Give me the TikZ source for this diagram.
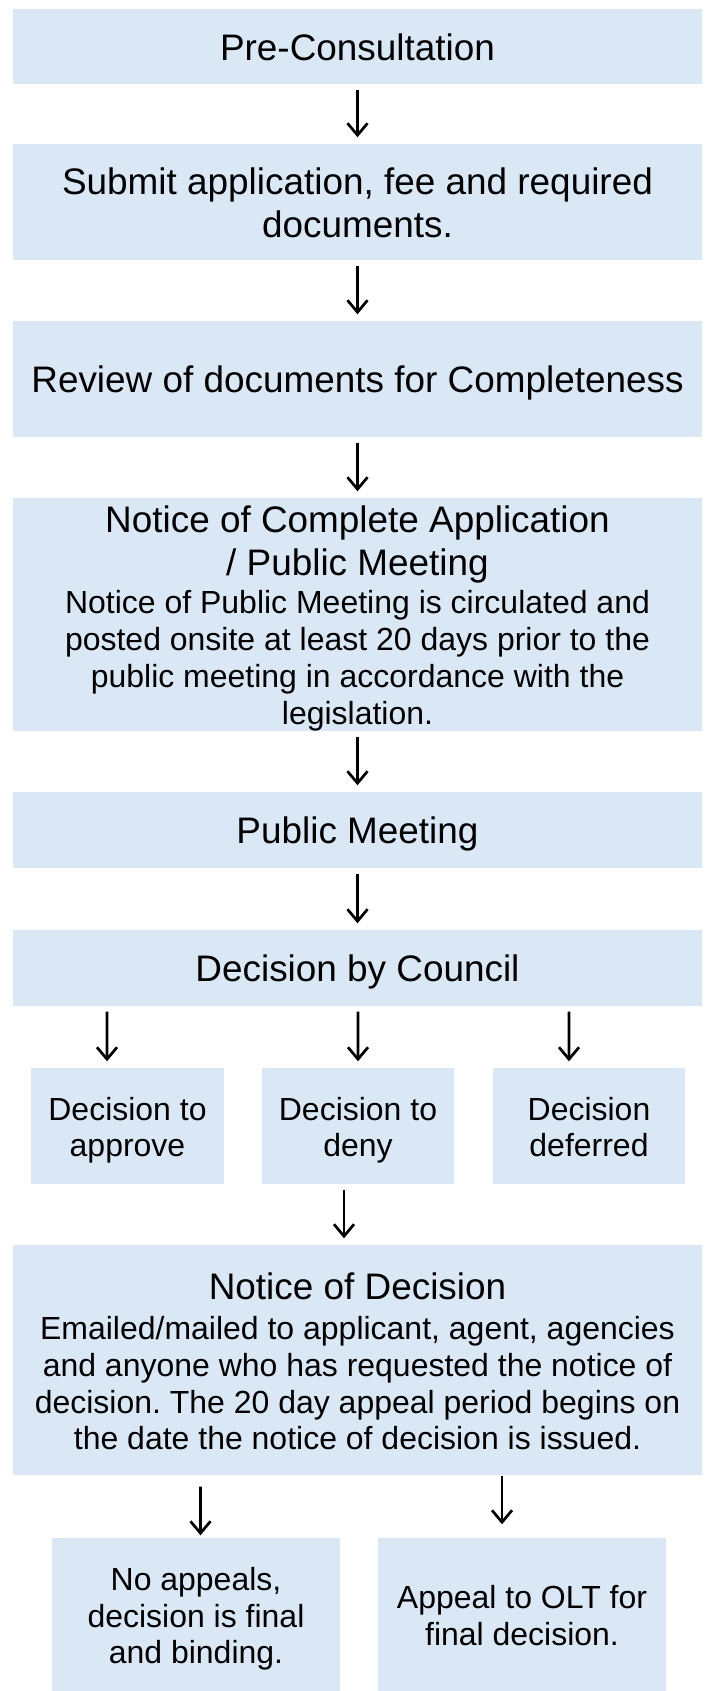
\documentclass[tikz,border=0pt]{standalone}
\usepackage{fontspec}
\setmainfont{Liberation Sans}
\usetikzlibrary{positioning,arrows.meta}
\definecolor{boxblue}{HTML}{DAE8F6}
\newcommand{\ttlsize}{\fontsize{10.5}{12.1}\selectfont}
\newcommand{\bdysize}{\fontsize{9.1}{10.45}\selectfont}
\newcommand{\topstrut}{\rule{0pt}{\dimexpr0.7\baselineskip+3pt\relax}}
\frenchspacing

\tikzset{
  stage/.style={fill=boxblue, minimum width=6.89cm, text width=6.85cm, align=flush center, inner sep=0pt, font=\ttlsize},
  wide/.style={stage, execute at begin node=\topstrut},
  small/.style={fill=boxblue, minimum width=1.92cm, minimum height=1.16cm, text width=1.9cm, align=flush center, inner sep=0pt, font=\bdysize,
    execute at begin node=\topstrut, execute at end node=\strut},
  low/.style={fill=boxblue, minimum width=2.88cm, minimum height=1.53cm, text width=2.85cm, align=flush center, inner sep=0pt, font=\bdysize,
    execute at begin node=\topstrut, execute at end node=\strut},
  arr/.style={-{Straight Barb[length=3.4pt,width=5.7pt]}, line width=0.77pt, shorten <=0.05cm, shorten >=0.06cm}
}

\begin{document}
\begin{tikzpicture}

\useasboundingbox (0,0) rectangle (7.04,-16.91);
% main steps
\node [wide, minimum height=0.75cm] (pre) at (3.575,-0.465) {Pre-Consultation\strut};
\node [wide, minimum height=1.16cm] (submit) at (3.575,-2.02) {Submit application, fee and required\\ documents.\strut};
\node [wide, minimum height=1.16cm] (review) at (3.575,-3.79) {Review of documents for Completeness\strut};
\node [stage, minimum height=2.33cm] (notice) at (3.575,-6.145) {\rule{0pt}{9.8pt}Notice of Complete Application\\ / Public Meeting\par
  \vspace{0.5pt}\bdysize Notice of Public Meeting is circulated and\\ posted onsite at least 20 days prior to the\\ public meeting in accordance with the\\ legislation.\par};
\node [wide, minimum height=0.76cm] (meeting) at (3.575,-8.30) {Public Meeting\strut};
\node [wide, minimum height=0.76cm] (council) at (3.575,-9.68) {Decision by Council\strut};
% outcomes
\node [small] (approve) at (1.275,-11.26) {Decision to\\ approve};
\node [small] (deny) at (3.58,-11.26) {Decision to\\ deny};
\node [small] (deferred) at (5.89,-11.26) {Decision\\ deferred};
% notice of decision
\node [wide, minimum height=2.30cm] (issued) at (3.575,-13.60) {Notice of Decision\par
  \vspace{1pt}\bdysize Emailed/mailed to applicant, agent, agencies\\ and anyone who has requested the notice of\\ decision. The 20 day appeal period begins on\\ the date the notice of decision is issued.\strut\par};
% appeals
\node [low] (final) at (1.96,-16.145) {No appeals,\\ decision is final\\ and binding.};
\node [low] (olt) at (5.22,-16.145) {Appeal to OLT for\\ final decision.};
%
% arrows
\draw [arr] (pre) -- (submit);
\draw [arr] (submit) -- (review);
\draw [arr] (review) -- (notice);
\draw [arr] (notice) -- (meeting);
\draw [arr] (meeting) -- (council);
\draw [arr] ([xshift=-2.505cm]council.south) -- ([xshift=-0.205cm]approve.north);
\draw [arr] ([xshift=0.005cm]council.south) -- (deny.north);
\draw [arr] ([xshift=2.115cm]council.south) -- ([xshift=-0.2cm]deferred.north);
\draw [arr] ([xshift=-0.14cm]deny.south) -- ([xshift=-0.135cm]issued.north);
\draw [arr, shorten <=0.11cm, shorten >=0.02cm] ([xshift=-1.57cm]issued.south) -- ([xshift=0.045cm]final.north);
\draw [arr, shorten <=0cm, shorten >=0.13cm] ([xshift=1.445cm]issued.south) -- ([xshift=-0.2cm]olt.north);

\end{tikzpicture}
\end{document}
